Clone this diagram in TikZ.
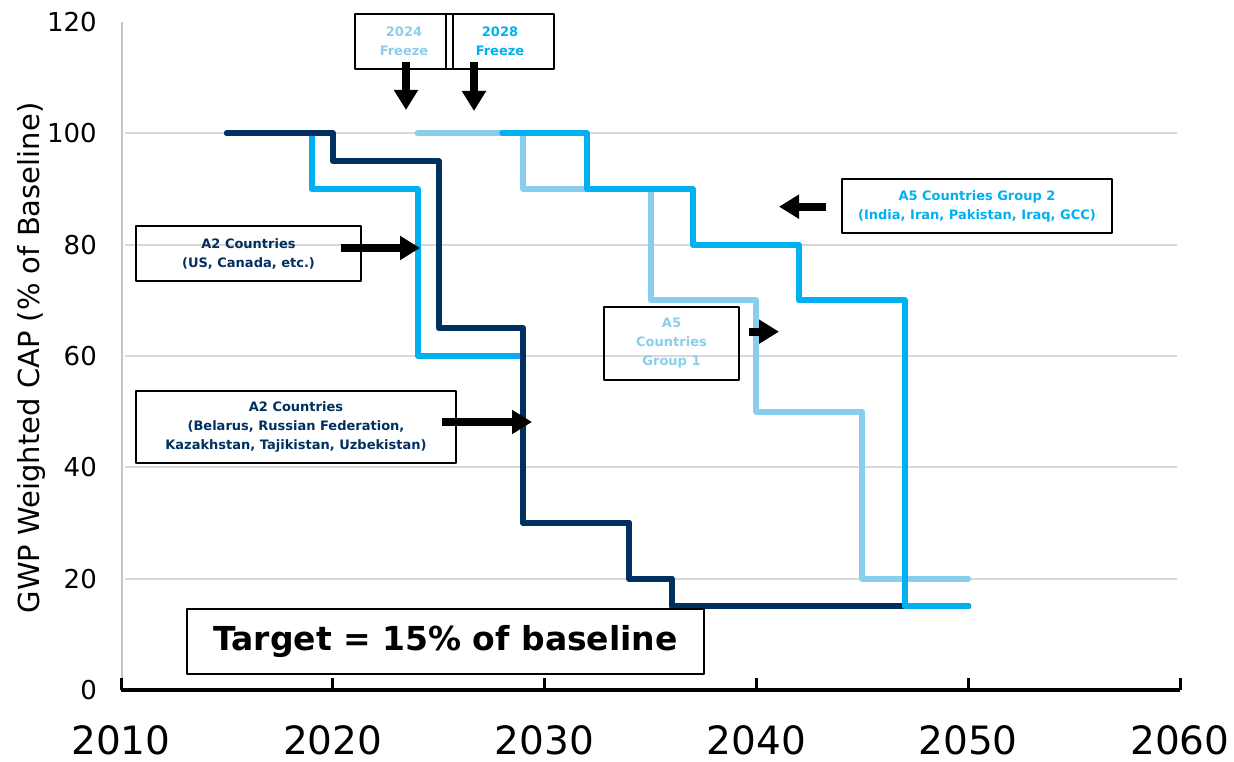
\documentclass[tikz,border=0pt]{standalone}
\usepackage{fontspec}
\setmainfont{DejaVu Sans}
\usetikzlibrary{arrows.meta}

\definecolor{navy}{RGB}{0,48,96}
\definecolor{capblue}{RGB}{0,176,240}
\definecolor{skyblue}{RGB}{137,206,236}

\begin{document}
\begin{tikzpicture}[x = 1pt, y = 1pt, % one unit is one pixel
                line join = round, line cap = round % rounded step corners
            ]

            \tikzstyle{every node}=[inner sep = 0pt]
            \tikzstyle{label box}=[draw = black, line width = 1.5pt, align = center,
            font = \bfseries\fontsize{13}{19}\selectfont]
            \tikzstyle{fat arrow}=[line width = 8pt, line cap = butt,
            -{Triangle[length = 20pt, width = 23pt]}]
            \tikzstyle{grid line}=[draw = gray!30, line width = 2pt, line cap = butt]
            \tikzstyle{series}=[line width = 6pt]
            \tikzstyle{year}=[font = \fontsize{39}{39}\selectfont, yshift = -50pt]
            \tikzstyle{share}=[font = \fontsize{26}{26}\selectfont, anchor = east,
            xshift = -24pt]

            \useasboundingbox (0,0) rectangle (1234,762);

            % data area: one x unit is a year after 2010, one y unit is 1 %
            \begin{scope}[shift = {(121,72)}, x = 21.18pt, y = 5.567pt]

            \draw[grid line] (0.19,20) -- (49.86,20); \draw[grid line] (0.19,40) -- (49.86,40);
            \draw[grid line] (0.19,60) -- (49.86,60); \draw[grid line] (0.19,80) -- (49.86,80);
            \draw[grid line] (0.19,100) -- (49.86,100);
            \draw[draw = gray!45, line width = 2pt, line cap = butt] (0.05,0) -- (0.05,120);

            \draw[line width = 3.5pt, line cap = butt] (0,0) -- (50,0);
            \draw[line width = 3pt, line cap = butt] (0,0) -- ++(0,12pt); \draw[line width = 3pt, line cap = butt] (10,0) -- ++(0,12pt);
            \draw[line width = 3pt, line cap = butt] (20,0) -- ++(0,12pt); \draw[line width = 3pt, line cap = butt] (30,0) -- ++(0,12pt);
            \draw[line width = 3pt, line cap = butt] (40,0) -- ++(0,12pt); \draw[line width = 3pt, line cap = butt] (50,0) -- ++(0,12pt);

            \node[year] (x10) at (0,0) {2010}; \node[year] (x20) at (10,0) {2020};
            \node[year] (x30) at (20,0) {2030}; \node[year] (x40) at (30,0) {2040};
            \node[year] (x50) at (40,0) {2050}; \node[year] (x60) at (50,0) {2060};

            \node[share] (y0) at (0,0) {0}; \node[share] (y20) at (0,20) {20};
            \node[share] (y40) at (0,40) {40}; \node[share] (y60) at (0,60) {60};
            \node[share] (y80) at (0,80) {80}; \node[share] (y100) at (0,100) {100};
            \node[share] (y120) at (0,120) {120};

            % A2 (US, Canada)
            \draw[series, capblue] (5,100) -- (9,100) -- (9,90) -- (14,90) -- (14,60)
            -- (19,60) -- (19,30) -- (24,30) -- (24,20) -- (26,20) -- (26,15) -- (40,15);
            % A2 (Belarus ...)
            \draw[series, navy] (5,100) -- (10,100) -- (10,95) -- (15,95) -- (15,65)
            -- (19,65) -- (19,30) -- (24,30) -- (24,20) -- (26,20) -- (26,15) -- (40,15);
            % A5 group 1
            \draw[series, skyblue] (14,100) -- (19,100) -- (19,90) -- (25,90) -- (25,70)
            -- (30,70) -- (30,50) -- (35,50) -- (35,20) -- (40,20);
            % A5 group 2
            \draw[series, capblue] (18,100) -- (22,100) -- (22,90) -- (27,90) -- (27,80)
            -- (32,80) -- (32,70) -- (37,70) -- (37,15) -- (40,15);
            \end{scope}

            \node[rotate = 90, font = \fontsize{29}{29}\selectfont] (ytitle) at (31,404)
            {GWP Weighted CAP (\% of Baseline)};

            \node[label box, minimum width = 98pt, minimum height = 55pt, text = skyblue]
            (f24) at (404,720.5) {2024\\Freeze};
            \node[label box, minimum width = 108pt, minimum height = 55pt, text = capblue]
            (f28) at (500,720.5) {2028\\Freeze};
            \node[label box, minimum width = 225pt, minimum height = 55pt, text = navy]
            (a2us) at (248.5,508.5) {A2 Countries\\(US, Canada, etc.)};
            \node[label box, minimum width = 320pt, minimum height = 72pt, text = navy]
            (a2ru) at (296,335) {A2 Countries\\(Belarus, Russian Federation,\\Kazakhstan, Tajikistan, Uzbekistan)};
            \node[label box, minimum width = 135pt, minimum height = 73pt, text = skyblue]
            (g1) at (671.5,418.5) {A5\\Countries\\Group 1};
            \node[label box, minimum width = 270pt, minimum height = 54pt, text = capblue]
            (g2) at (977,556) {A5 Countries Group 2\\(India, Iran, Pakistan, Iraq, GCC)};
            \node[draw = black, line width = 1.5pt, minimum width = 517pt, minimum height = 65pt,
            font = \bfseries\fontsize{33}{33}\selectfont] (tgt) at (445.5,120.5)
            {Target = 15\% of baseline};

            \coordinate (f24s) at (406,700); \coordinate (f24t) at (406,652);
            \coordinate (f28s) at (474,700); \coordinate (f28t) at (474,651);
            \coordinate (a2uss) at (341,514); \coordinate (a2ust) at (420,514);
            \coordinate (a2rus) at (442,340); \coordinate (a2rut) at (532,340);
            \coordinate (g1s) at (749,430.3); \coordinate (g1t) at (779,430.3);
            \coordinate (g2s) at (826,555.3); \coordinate (g2t) at (779,555.3);

            \draw[fat arrow] (f24s) -- (f24t); \draw[fat arrow] (f28s) -- (f28t);
            \draw[fat arrow] (a2uss) -- (a2ust); \draw[fat arrow] (a2rus) -- (a2rut);
            \draw[fat arrow] (g1s) -- (g1t); \draw[fat arrow] (g2s) -- (g2t);
        \end{tikzpicture}
\end{document}
